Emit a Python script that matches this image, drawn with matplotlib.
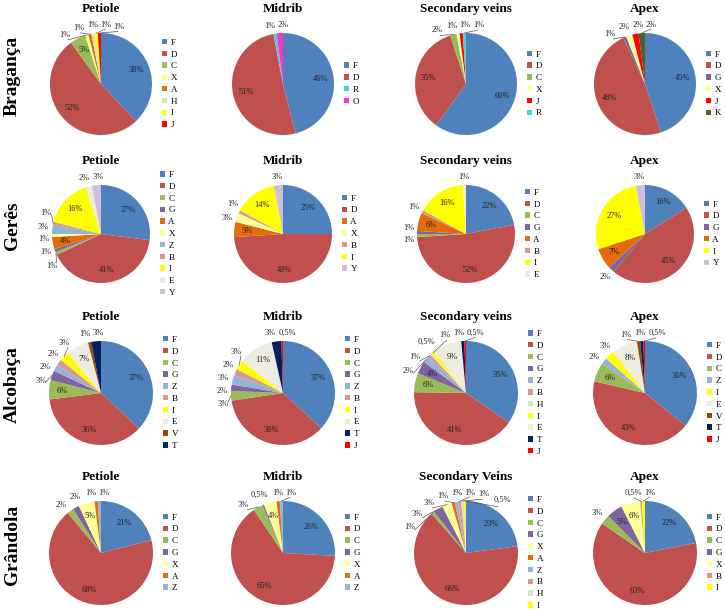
import matplotlib
matplotlib.use('Agg')
import matplotlib.pyplot as plt
import numpy as np

plt.rcParams['font.family'] = ['Liberation Serif', 'DejaVu Serif']

W, H = 725, 611

sites = ['Bragança', 'Gerês', 'Alcobaça', 'Grândola']
organs = [['Petiole', 'Midrib', 'Secondary veins', 'Apex'],
          ['Petiole', 'Midrib', 'Secondary veins', 'Apex'],
          ['Petiole', 'Midrib', 'Secondary veins', 'Apex'],
          ['Petiole', 'Midrib', 'Secondary Veins', 'Apex']]

# Bragança
bra_pet_cats = ['F', 'D', 'C', 'X', 'A', 'H', 'I', 'J']
bra_pet_vals = [38, 52, 5, 1, 1, 1, 1, 1]
bra_mid_cats = ['F', 'D', 'R', 'O']
bra_mid_vals = [46, 51, 1, 2]
bra_sec_cats = ['F', 'D', 'C', 'X', 'J', 'R']
bra_sec_vals = [60, 35, 2, 1, 1, 1]
bra_apx_cats = ['F', 'D', 'G', 'X', 'J', 'K']
bra_apx_vals = [45, 48, 1, 2, 2, 2]

# Gerês
ger_pet_cats = ['F', 'D', 'C', 'G', 'A', 'X', 'Z', 'B', 'I', 'E', 'Y']
ger_pet_vals = [27, 41, 1, 1, 4, 1, 3, 1, 16, 2, 3]
ger_mid_cats = ['F', 'D', 'A', 'X', 'B', 'I', 'Y']
ger_mid_vals = [25, 49, 5, 3, 1, 14, 3]
ger_sec_cats = ['F', 'D', 'C', 'G', 'A', 'B', 'I', 'E']
ger_sec_vals = [22, 52, 1, 1, 6, 1, 16, 1]
ger_apx_cats = ['F', 'D', 'G', 'A', 'I', 'Y']
ger_apx_vals = [16, 45, 2, 7, 27, 3]

# Alcobaça
alc_pet_cats = ['F', 'D', 'C', 'G', 'Z', 'B', 'I', 'E', 'V', 'T']
alc_pet_vals = [37, 36, 6, 3, 2, 2, 3, 7, 1, 3]
alc_mid_cats = ['F', 'D', 'C', 'G', 'Z', 'B', 'I', 'E', 'T', 'J']
alc_mid_vals = [37, 36, 3, 2, 3, 2, 3, 11, 3, 0.5]
alc_sec_cats = ['F', 'D', 'C', 'G', 'Z', 'B', 'H', 'I', 'E', 'T', 'J']
alc_sec_vals = [35, 41, 6, 4, 2, 1, 0.5, 1, 9, 1, 0.5]
alc_apx_cats = ['F', 'D', 'C', 'Z', 'I', 'E', 'V', 'T', 'J']
alc_apx_vals = [36, 43, 6, 2, 3, 8, 1, 1, 0.5]

# Grândola
gra_pet_cats = ['F', 'D', 'C', 'G', 'X', 'A', 'Z']
gra_pet_vals = [21, 68, 2, 2, 5, 1, 1]
gra_mid_cats = ['F', 'D', 'C', 'G', 'X', 'A', 'Z']
gra_mid_vals = [26, 65, 3, 0.5, 4, 1, 1]
gra_sec_cats = ['F', 'D', 'C', 'G', 'X', 'A', 'Z', 'B', 'H', 'I']
gra_sec_vals = [23, 66, 1, 3, 3, 1, 1, 1, 1, 0.5]
gra_apx_cats = ['F', 'D', 'C', 'G', 'X', 'B', 'I']
gra_apx_vals = [22, 63, 3, 5, 6, 0.5, 1]

grid = [
    [(bra_pet_cats, bra_pet_vals), (bra_mid_cats, bra_mid_vals),
     (bra_sec_cats, bra_sec_vals), (bra_apx_cats, bra_apx_vals)],
    [(ger_pet_cats, ger_pet_vals), (ger_mid_cats, ger_mid_vals),
     (ger_sec_cats, ger_sec_vals), (ger_apx_cats, ger_apx_vals)],
    [(alc_pet_cats, alc_pet_vals), (alc_mid_cats, alc_mid_vals),
     (alc_sec_cats, alc_sec_vals), (alc_apx_cats, alc_apx_vals)],
    [(gra_pet_cats, gra_pet_vals), (gra_mid_cats, gra_mid_vals),
     (gra_sec_cats, gra_sec_vals), (gra_apx_cats, gra_apx_vals)],
]

colors = {
    'F': '#4F81BD', 'D': '#C0504D', 'C': '#9BBB59', 'G': '#8064A2',
    'A': '#E46C0A', 'X': '#FFFF99', 'Z': '#95B3D7', 'B': '#D99694',
    'I': '#FFFF00', 'E': '#EEECE1', 'Y': '#CCC0DA', 'H': '#D7E4BD',
    'J': '#FF0000', 'R': '#4BCFD0', 'O': '#FF33CC', 'K': '#4F6228',
    'V': '#984807', 'T': '#002060',
}

# layout in pixels
col_x = [101, 283, 466, 645]
row_y = [84, 234, 393, 553]
row_r = [51, 49, 52, 52]

LBL_FS = 6


def fmt(v):
    return ('%g' % v).replace('.', ',') + '%'


def draw_labels(ax, wedges, vals, r_px):
    outside = []
    for w, v in zip(wedges, vals):
        mid = (w.theta1 + w.theta2) / 2
        if v >= 4:
            a = np.deg2rad(mid)
            ax.text(0.74 * np.cos(a), 0.74 * np.sin(a), fmt(v), ha='center',
                    va='center', fontsize=LBL_FS, color='#222222')
        else:
            outside.append((mid, fmt(v)))
    if not outside:
        return
    outside.sort(key=lambda o: o[0])
    mids = [o[0] for o in outside]
    txts = [o[1] for o in outside]
    widths = [len(t) * 4.0 + 1 for t in txts]
    hgt = 8.0
    ang = list(mids)
    px_per_deg = 1.2 * r_px * np.pi / 180
    for _ in range(300):
        for i in range(len(ang) - 1):
            m = np.deg2rad((ang[i] + ang[i + 1]) / 2)
            need = (abs(np.sin(m)) * (widths[i] + widths[i + 1]) / 2
                    + abs(np.cos(m)) * hgt + 4) / px_per_deg
            gap = ang[i + 1] - ang[i]
            if gap < need:
                d = (need - gap) / 2
                ang[i] -= d
                ang[i + 1] += d
    for m, a, t, wd in zip(mids, ang, txts, widths):
        ar = np.deg2rad(a)
        ext = abs(np.cos(ar)) * wd / 2 + abs(np.sin(ar)) * hgt / 2
        rr = 1.08 + ext / r_px
        ax.text(rr * np.cos(ar), rr * np.sin(ar), t, ha='center', va='center',
                fontsize=LBL_FS, color='#222222')
        if abs(a - m) > 5:
            mr = np.deg2rad(m)
            ax.plot([np.cos(mr), 1.08 * np.cos(ar)],
                    [np.sin(mr), 1.08 * np.sin(ar)],
                    color='#555555', lw=0.5, clip_on=False)


fig = plt.figure(figsize=(W / 100, H / 100), dpi=100)

for i, site in enumerate(sites):
    r = row_r[i]
    fig.text(12 / W, 1 - (row_y[i] - 8) / H, site, rotation=90, ha='center',
             va='center', fontsize=14, fontweight='bold')
    for j in range(4):
        cats, vals = grid[i][j]
        cx, cy = col_x[j], row_y[i]
        ax = fig.add_axes([(cx - r) / W, 1 - (cy + r) / H, 2 * r / W, 2 * r / H])
        wedges, _ = ax.pie(vals, colors=[colors[c] for c in cats], startangle=90,
                           counterclock=False, radius=1,
                           wedgeprops=dict(linewidth=0))
        ax.set_xlim(-1, 1)
        ax.set_ylim(-1, 1)
        ax.set_aspect('equal')
        ax.axis('off')
        draw_labels(ax, wedges, vals, r)
        ax.text(0, 1 + 24 / r, organs[i][j], ha='center', va='center',
                fontsize=9.5, fontweight='bold')
        ax.legend(wedges, cats, loc='center left', bbox_to_anchor=(1.1, 0.5),
                  frameon=False, fontsize=6.5, handlelength=0.55,
                  handleheight=0.55, handletextpad=0.4, labelspacing=0.42,
                  borderpad=0, borderaxespad=0)

fig.savefig('out.png', dpi=100)
